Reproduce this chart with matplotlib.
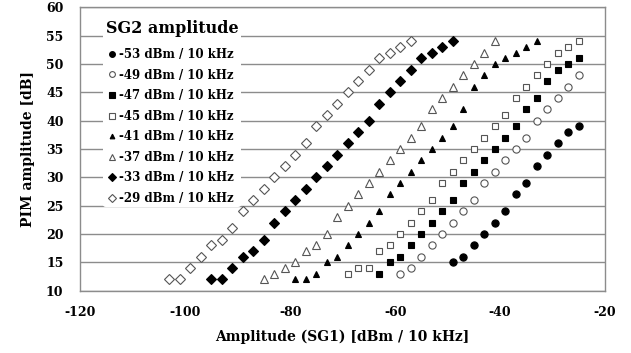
import numpy as np
import matplotlib
matplotlib.use('Agg')
import matplotlib.pyplot as plt

# ----------------------------------------
# Data
# ----------------------------------------
labels = ['-53 dBm / 10 kHz', '-49 dBm / 10 kHz', '-47 dBm / 10 kHz', '-45 dBm / 10 kHz',
          '-41 dBm / 10 kHz', '-37 dBm / 10 kHz', '-33 dBm / 10 kHz', '-29 dBm / 10 kHz']

x_m53 = [-49, -47, -45, -43, -41, -39, -37, -35, -33, -31, -29, -27, -25]
y_m53 = [15, 16, 18, 20, 22, 24, 27, 29, 32, 34, 36, 38, 39]

x_m49 = [-59, -57, -55, -53, -51, -49, -47, -45, -43, -41, -39, -37, -35, -33, -31, -29, -27, -25]
y_m49 = [13, 14, 16, 18, 20, 22, 24, 26, 29, 31, 33, 35, 37, 40, 42, 44, 46, 48]

x_m47 = [-63, -61, -59, -57, -55, -53, -51, -49, -47, -45, -43, -41, -39, -37, -35, -33, -31,
         -29, -27, -25]
y_m47 = [13, 15, 16, 18, 20, 22, 24, 26, 29, 31, 33, 35, 37, 39, 42, 44, 47, 49, 50, 51]

x_m45 = [-69, -67, -65, -63, -61, -59, -57, -55, -53, -51, -49, -47, -45, -43, -41, -39, -37,
         -35, -33, -31, -29, -27, -25]
y_m45 = [13, 14, 14, 17, 18, 20, 22, 24, 26, 29, 31, 33, 35, 37, 39, 41, 44, 46, 48, 50, 52,
         53, 54]

x_m41 = [-79, -77, -75, -73, -71, -69, -67, -65, -63, -61, -59, -57, -55, -53, -51, -49, -47,
         -45, -43, -41, -39, -37, -35, -33]
y_m41 = [12, 12, 13, 15, 16, 18, 20, 22, 24, 27, 29, 31, 33, 35, 37, 39, 42, 46, 48, 50, 51,
         52, 53, 54]

x_m37 = [-85, -83, -81, -79, -77, -75, -73, -71, -69, -67, -65, -63, -61, -59, -57, -55, -53,
         -51, -49, -47, -45, -43, -41]
y_m37 = [12, 13, 14, 15, 17, 18, 20, 23, 25, 27, 29, 31, 33, 35, 37, 39, 42, 44, 46, 48, 50,
         52, 54]

x_m33 = [-95, -93, -91, -89, -87, -85, -83, -81, -79, -77, -75, -73, -71, -69, -67, -65, -63,
         -61, -59, -57, -55, -53, -51, -49]
y_m33 = [12, 12, 14, 16, 17, 19, 22, 24, 26, 28, 30, 32, 34, 36, 38, 40, 43, 45, 47, 49, 51,
         52, 53, 54]

x_m29 = [-103, -101, -99, -97, -95, -93, -91, -89, -87, -85, -83, -81, -79, -77, -75, -73, -71,
         -69, -67, -65, -63, -61, -59, -57]
y_m29 = [12, 12, 14, 16, 18, 19, 21, 24, 26, 28, 30, 32, 34, 36, 39, 41, 43, 45, 47, 49, 51,
         52, 53, 54]

xs = [x_m53, x_m49, x_m47, x_m45, x_m41, x_m37, x_m33, x_m29]
ys = [y_m53, y_m49, y_m47, y_m45, y_m41, y_m37, y_m33, y_m29]

# marker, filled?, size
styles = [('o', True, 5.2), ('o', False, 5.2), ('s', True, 5.0), ('s', False, 5.0),
          ('^', True, 4.2), ('^', False, 6.0), ('D', True, 4.8), ('D', False, 5.0)]

x_ticks = [-120, -100, -80, -60, -40, -20]
y_ticks = [10, 15, 20, 25, 30, 35, 40, 45, 50, 55, 60]

# ----------------------------------------
# Plot
# ----------------------------------------
plt.rcParams['font.family'] = 'DejaVu Serif'

fig, ax = plt.subplots(figsize=(6.31, 3.53), dpi=100)
fig.subplots_adjust(left=0.127, right=0.959, top=0.979, bottom=0.177)

for x, y, lab, (m, filled, ms) in zip(xs, ys, labels, styles):
    ax.plot(x, y, linestyle='none', marker=m, markersize=ms,
            markerfacecolor='black' if filled else 'white',
            markeredgecolor='black' if filled else '#555555',
            markeredgewidth=0.8, label=lab)

ax.set_xlim(-120, -20)
ax.set_ylim(10, 60)
ax.set_xticks(x_ticks)
ax.set_yticks(y_ticks)
ax.set_xticklabels([str(v) for v in x_ticks])
ax.set_yticklabels([str(v) for v in y_ticks])
ax.tick_params(length=0, labelsize=9)
ax.tick_params(axis='x', pad=11)
ax.tick_params(axis='y', pad=12)
for t in ax.get_xticklabels() + ax.get_yticklabels():
    t.set_fontweight('bold')

ax.grid(axis='y', color='#8c8c8c', linewidth=1.0)
ax.set_axisbelow(True)
for s in ax.spines.values():
    s.set_color('#8c8c8c')
    s.set_linewidth(1.0)

ax.set_xlabel('Amplitude (SG1) [dBm / 10 kHz]', fontsize=10, fontweight='bold', labelpad=8)
ax.set_ylabel('PIM amplitude [dB]', fontsize=10, fontweight='bold', labelpad=8)

leg = ax.legend(loc='upper left', bbox_to_anchor=(0.033, 0.985), frameon=True,
                title='SG2 amplitude', title_fontproperties={'weight': 'bold', 'size': 11.5},
                prop={'weight': 'bold', 'size': 8.5}, handletextpad=0.1, handlelength=1.0,
                labelspacing=0.64, borderpad=0.2, markerscale=0.8)
leg.get_frame().set_edgecolor('none')
leg.get_frame().set_facecolor('white')
leg.get_frame().set_alpha(1.0)
leg._legend_box.align = 'left'
leg._legend_box.sep = 8.0  # gap between title and entries, in points

plt.savefig('out.png', dpi=100)
